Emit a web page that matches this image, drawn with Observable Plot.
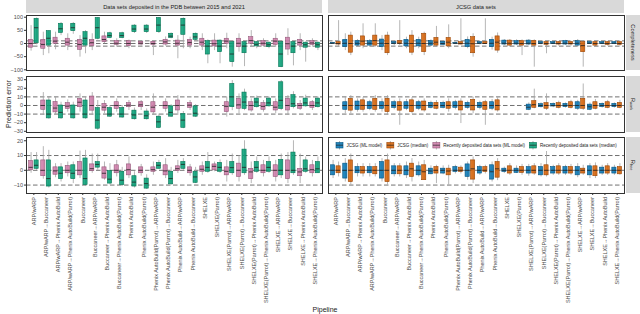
<!DOCTYPE html>
<html><head><meta charset="utf-8">
<script src="https://cdn.jsdelivr.net/npm/d3@7"></script>
<script src="https://cdn.jsdelivr.net/npm/@observablehq/plot@0.6"></script>
<style>
body{margin:0;background:#fff;}
#chart{position:relative;width:640px;height:314px;overflow:hidden;font-family:"Liberation Sans",Arial,sans-serif;background:#fff;}
#chart svg{position:absolute;left:0;}
</style></head><body><div id="chart"></div>
<script>
const pipelines = ["ARP/wARP","ARP/wARP→Buccaneer","ARP/wARP→Phenix AutoBuild","ARP/wARP→Phenix AutoBuild(Parrot)","Buccaneer","Buccaneer→ARP/wARP","Buccaneer→Phenix AutoBuild","Buccaneer→Phenix AutoBuild(Parrot)","Phenix AutoBuild","Phenix AutoBuild(Parrot)","Phenix AutoBuild(Parrot)→ARP/wARP","Phenix AutoBuild(Parrot)→Buccaneer","Phenix AutoBuild→ARP/wARP","Phenix AutoBuild→Buccaneer","SHELXE","SHELXE(Parrot)","SHELXE(Parrot)→ARP/wARP","SHELXE(Parrot)→Buccaneer","SHELXE(Parrot)→Phenix AutoBuild","SHELXE(Parrot)→Phenix AutoBuild(Parrot)","SHELXE→ARP/wARP","SHELXE→Buccaneer","SHELXE→Phenix AutoBuild","SHELXE→Phenix AutoBuild(Parrot)"];
const datasets = ["Data sets deposited in the PDB between 2015 and 2021","JCSG data sets"];
const metrics = ["Completeness","Rwork","Rfree"];
const seriesNames = ["JCSG (ML model)","JCSG (median)","Recently deposited data sets (ML model)","Recently deposited data sets (median)"];
const seriesColors = ["#0072B2","#D55E00","#CC79A7","#009E73"];
const yTicksCompleteness = [-100,-50,0,50,100];
const yTicksRwork = [-30,-20,-10,0,10,20,30];
const yTicksRfree = [-10,0,10,20];
const referenceLines = [-10,0,10];

// box statistics per pipeline: [lower whisker, q1, median, q3, upper whisker]
const pdbCompML = [[-29,-16,0,14,68],[-46,-20,-4,14,43],[-24,-1,9,22,43],[-27,-8,5,18,37],[-52,-24,-4,14,30],[-27,-10,3,14,37],[-1,5,15,27,43],[-14,-5,1,9,18],[-20,-10,0,9,13],[-9,-4,1,6,11],[-46,-5,0,6,11],[-10,-4,6,14,25],[-58,-8,1,11,30],[-20,-8,4,14,24],[-27,-8,5,18,37],[-27,-11,-1,11,37],[-20,-1,9,18,39],[-33,-14,1,18,37],[-14,-1,11,24,49],[-14,-8,1,9,18],[-14,-5,9,18,37],[-46,-23,-1,22,56],[-27,-8,4,14,37],[-14,-5,2,9,18]];
const pdbCompMedian = [[-5,1,60,94,97],[-39,-8,20,47,49],[30,40,56,75,80],[35,47,60,75,80],[-39,-8,20,43,49],[14,18,60,97,99],[18,21,30,39,43],[18,21,30,39,43],[38,43,55,68,72],[38,43,55,68,72],[38,43,70,97,99],[18,21,28,37,40],[-20,33,70,94,97],[10,14,25,37,40],[-77,-42,-10,9,14],[-77,-33,-10,11,14],[-90,-71,-40,5,8],[-88,-37,-10,5,8],[-20,-11,-3,5,8],[-20,-14,-5,3,6],[-92,-90,-40,5,8],[-85,-37,-10,5,8],[-71,-16,-5,3,6],[-27,-16,-5,3,6]];
const pdbRworkML = [null,[-11.5,-5,0,5.8,15],[-11.5,-8,-3,4,9.6],[-7.7,-4,-0.8,2.7,6.5],[-7.7,-2,3.8,7.7,13.5],[-11.5,-6,0,10.4,15],[-9.6,-6,-2,1.9,5.8],[-7.7,-4,0,3.8,7.7],[-5.8,-2,0.4,2.7,5.8],[-5.8,-2,0.8,3.8,5.8],[-11.5,-8,-2,3.8,13.5],[-7.7,-3.8,0,3.8,7.7],[-11.5,-5.8,0,5.8,11.5],[-5.8,-2.7,0.4,2.7,5.8],null,null,[-13.5,-7.7,-1,3.8,9.6],[-9.6,-3.8,0.8,7.7,13.5],[-7.7,-5.8,0,3.8,7.7],[-7.7,-5,-1,2.7,5.8],[-9.6,-5.8,-2,3.8,7.7],[-11.5,-5.8,0,7.7,11.5],[-5.8,-3.8,0,1.9,5.8],[-5.8,-2.7,0,3.8,5.8]];
const pdbRworkMedian = [null,[-16,-15,-10,5.8,9.6],[-16,-15,-8,0,3.8],[-16,-15,-10,0,3.8],[-16,-15,-10,5.8,9.6],[-29,-27,-17,-3,5.8],[-14,-13,-10,-3,0],[-15,-14,-10,-3,0],[-17,-16,-11,-6,-3],[-17,-16,-12,-7,-4],[-27,-26,-19,-13,-10],[-14,-13,-8,-1,1],[-27,-26,-17,-10,-7],[-14,-13,-9,-1,1],null,null,[-6,-2,10,25,29],[-6,-4,4,15,19],[-3,-2,4,8,11],[-2,-1,3,8,10],[-6,-4,6,27,29],[-4,-2,2,12,16],[-2,-1,3,8,12],[-3,-2,3,8,10]];
const pdbRfreeML = [[-2,0,2,6.3,12],[-6,-4,0,6.7,16],[-5,-3,-0.4,2,4.5],[-4.5,-2,0,3,5.6],[-5.6,-3.4,0,5.6,13],[-2,-0.5,1.1,4,11],[-6.7,-5.6,-2,2,5.6],[-4.5,-2,0,3.4,6.7],[-5.6,-3.4,0.4,4,9],[-4,-2,0,2,4],[-3.4,-1,0.4,2,5.6],[-5.6,-3.4,-0.4,3.4,7.9],[-2.2,-0.5,1.1,2.7,6.7],[-4,-2,0,2,4],[-3.4,-1,0.7,2.7,5.6],[-1,0,2.7,4,5.6],[-7.9,-3.4,-0.7,2,6.7],[-7.9,-4.5,0,4.5,10],[-9,-6,-1.1,1,5.6],[-4.5,-2,0,3.4,6.7],[-7.9,-4.5,0,3.4,6.7],[-9,-6,0,6.7,12],[-9,-4,-1.1,1,11],[-4.5,-2,0.4,3.4,6.7]];
const pdbRfreeMedian = [[0,1,3.4,6.7,12],[-12,-11,-5.6,6.7,13.5],[-7.9,-6,-2,2,4.5],[-9,-6,-2,3.4,5.6],[-11,-10,-5.6,8,13.5],[0,1.8,4,5.6,11],[-10,-9,-6,-0.5,4.5],[-11,-10,-6.7,-1,2],[-12,-11,-8,-4,-1],[-13,-12.4,-9,-5.6,-3],[1,1,3.4,5,6.7],[-10,-9.5,-5.6,-1,2],[0,1,4,5.6,7.9],[-9,-8.5,-4.5,-1,2],[-2,-1,2,5.6,12],[-2,-1,2,5,7],[-3.4,-2,1.8,5.6,11],[-3.4,-2,2,14,20],[-2,-1,2,5.6,9],[-2,-1,2,5.6,9],[-5.6,-3.4,0,7,11],[-3.4,-2,0,12,20],[-2,-1,1,6.7,9],[-2,-2,1,5.6,9]];
const jcsgCompML = [[-3,-1,1,2,4],[-27,-14,1,14,37],[-15,-8,1,9,15],[-15,-8,1,9,15],[-27,-14,1,15,30],[-8,-1,1,5,9],[-20,-11,1,14,24],[-20,-11,1,14,24],[-12,-8,1,9,14],[-8,-5,0,6,10],[-3,-1,1,2,4],[-20,-14,1,14,25],[-5,-1,1,5,8],[-25,-14,1,14,24],[-8,-4,1,11,15],[-8,-4,1,9,14],[-8,-4,1,11,15],[-5,-1,1,5,8],[-4,-2,1,5,8],[-8,-4,1,9,12],[-14,-8,1,9,15],[-4,-1,1,5,8],[-4,-2,1,5,8],[-4,-2,1,5,8]];
const jcsgCompMedian = [[-14,-4,0,5,87],[-46,-35,0,30,43],[-20,-8,9,27,75],[-14,-8,11,30,75],[-46,-37,0,30,43],[-8,-2,1,9,87],[-46,-35,0,30,49],[-46,-33,0,37,43],[-14,-8,5,21,65],[-20,-11,5,21,71],[-5,-4,0,5,94],[-52,-37,-1,24,37],[-4,-2,0,5,94],[-37,-27,5,27,40],[-14,-8,1,11,15],[-46,-8,0,9,14],[-90,-8,0,9,14],[-39,-5,0,5,8],[-10,-4,0,5,8],[-10,-4,0,5,8],[-90,-33,-8,5,8],[-14,-8,0,5,8],[-10,-5,0,5,8],[-10,-5,0,5,8]];
const jcsgRworkML = [null,[-9.6,-5,0,3.8,9.6],[-7.7,-5,0,4.6,7.7],[-6,-4,0,3.8,6],[-7.7,-4,0,3.8,7.7],[-5,-2.7,0,3.8,6],[-6,-3.8,0,3.8,7],[-6,-3.8,0,3.8,6],[-4,-2.7,0,3,5],[-4,-2.7,0,3,5],[-5,-2.7,0,3.8,6],[-4.5,-2.7,0,3,5],[-5,-2.7,0,3,5],[-6,-3.8,0,3.8,7],null,null,[-6,-5,-2,1,3],[-3,-2,0,1.5,3],[-2.5,-1.2,0,1.9,3],[-3,-1.9,0,1.9,3],[-5.8,-3.8,0,3.8,6],[-6,-5,-1.5,1,3],[-3,-1.9,0,1.9,3],[-3,-1.9,0,1.9,3]];
const jcsgRworkMedian = [null,[-9.6,-6,0,7.7,11.5],[-7.7,-5,0,6,9],[-7.7,-5,0,7.7,11.5],[-11.5,-7.7,0,7.7,11.5],[-23,-6,0,3.8,7.7],[-9.6,-7.7,0,6,9],[-7.7,-5.8,0,4.6,7.7],[-5,-3.8,0,3,5.8],[-7.7,-3.8,0,3.8,7.7],[-21,-5.8,0,4.6,7.7],[-9.6,-5.8,0,6.5,9.6],[-23,-5,0,3.8,6],[-7.7,-5.8,0,6,9],null,null,[-3.8,-2.7,1,5,19],[-5.8,-3.8,0,2.7,13.5],[-4,-2.7,0,2.7,5],[-4,-2.7,0,3.8,6],[-5.8,-3.8,0,7.7,25],[-5,-3.8,0,3.8,7],[-3.8,-2.7,0,3.8,6],[-3.8,-2.7,0,3,6]];
const jcsgRfreeML = [[-5.6,-3.4,0,3.4,6.7],[-7.9,-5.6,0,4.5,7.9],[-4.5,-2,0,2.2,4.5],[-4.5,-2,0,2.2,4.5],[-7.9,-5.6,0,5.6,7.9],[-4.5,-2.7,0,2.7,4.5],[-5.6,-3.4,0,2.7,5.6],[-4.5,-3.4,0,2.7,5.6],[-3,-2.7,-0.5,1.1,3],[-3,-2.2,0,1.1,3],[-2.5,-1.1,0,2.2,3.4],[-6.7,-4.5,0,4,5.6],[-3.4,-2.2,0,2.2,3.4],[-7.9,-6.3,-1,3.4,5.6],[-2.2,-1.1,0,1.1,2.2],[-2.2,-1.8,0,1.1,3],[-4,-2.2,0,2.2,4],[-4.5,-3.4,0,2.2,4.5],[-3.4,-2.2,0,2.2,3.4],[-3.4,-2.2,0,2.2,3.4],[-5,-3.4,0,2.2,4.5],[-5.6,-3.4,0,2.7,4.5],[-3.4,-2.2,0,1.8,3.4],[-3.4,-2.2,0,1.8,3.4]];
const jcsgRfreeMedian = [[-4.5,-2,0,2.7,5.6],[-10,-8,0,6.7,11],[-4.5,-2.2,0,2.2,4.5],[-4.5,-2.7,0,2.2,4.5],[-10,-8,0,6.7,11],[-4.5,-2.7,0,2.7,4.5],[-7.9,-4.5,1,4.5,7.9],[-6.7,-6.7,-1,3.4,6.7],[-9,-2.2,0,2.2,3.4],[-10,-3.4,-0.5,1.1,3.4],[-2.5,-1.1,0,1.8,3],[-9,-6.3,1,6.7,9],[-2.5,-1.1,0,2.2,3.4],[-7,-5,1,5.6,7.9],[-3.4,-2.2,0,2.7,4.5],[-3.4,-1.8,0,2.2,4],[-3.4,-2.2,0,2.7,4.5],[-4.5,-3.4,0,3.4,17],[-3.4,-2.2,0,2.7,4.5],[-3.4,-2.2,0,2.2,4],[-3.4,-2.2,0,1.1,3.4],[-5.6,-4,0,2.7,5],[-3.4,-2.2,0,2.7,4.5],[-3.4,-2.7,0,2.2,4.5]];

const tables = [
  {metric:"Completeness", dataset:0, series:2, side:-1, stats:pdbCompML},
  {metric:"Completeness", dataset:0, series:3, side:1, stats:pdbCompMedian},
  {metric:"Completeness", dataset:1, series:0, side:-1, stats:jcsgCompML},
  {metric:"Completeness", dataset:1, series:1, side:1, stats:jcsgCompMedian},
  {metric:"Rwork", dataset:0, series:2, side:-1, stats:pdbRworkML},
  {metric:"Rwork", dataset:0, series:3, side:1, stats:pdbRworkMedian},
  {metric:"Rwork", dataset:1, series:0, side:-1, stats:jcsgRworkML},
  {metric:"Rwork", dataset:1, series:1, side:1, stats:jcsgRworkMedian},
  {metric:"Rfree", dataset:0, series:2, side:-1, stats:pdbRfreeML},
  {metric:"Rfree", dataset:0, series:3, side:1, stats:pdbRfreeMedian},
  {metric:"Rfree", dataset:1, series:0, side:-1, stats:jcsgRfreeML},
  {metric:"Rfree", dataset:1, series:1, side:1, stats:jcsgRfreeMedian}
];
const boxes = [];
for (const t of tables) t.stats.forEach((s, i) => {
  if (!s) return;
  const fill = seriesColors[t.series];
  boxes.push({metric:t.metric, dataset:datasets[t.dataset], pos:i+1+0.225*t.side,
    lo:s[0], q1:s[1], med:s[2], q3:s[3], hi:s[4], fill, edge:d3.color(fill).darker(0.9).formatHex()});
});

const yTicks = {Completeness:yTicksCompleteness, Rwork:yTicksRwork, Rfree:yTicksRfree};
const yDomains = {Completeness:[-102.7,106.5], Rwork:[-31.4,33.7], Rfree:[-15.7,22.2]};
const rowLayout = [{top:11, panel:55, mb:4, xaxis:false},{top:72, panel:56, mb:4, xaxis:false},{top:133, panel:56, mb:125, xaxis:true}];
const HW = 0.17;
const chart = document.getElementById("chart");

metrics.forEach((metric, r) => {
  const L = rowLayout[r];
  const data = boxes.filter(d => d.metric === metric);
  const p = Plot.plot({
    width:640, height:4 + L.panel + L.mb,
    marginLeft:26, marginRight:16, marginTop:4, marginBottom:L.mb,
    style:{background:"transparent", fontFamily:"Liberation Sans, Arial, sans-serif", fontSize:"5.5px", color:"#4d4d4d", overflow:"visible"},
    fx:{domain:datasets, paddingInner:6/302, paddingOuter:0, axis:null, label:null},
    x:{type:"linear", domain:[0.4,24.6], axis: L.xaxis ? undefined : null},
    y:{domain:yDomains[metric]},
    color:{type:"identity"},
    marks:[
      Plot.ruleY(referenceLines, {stroke:"#333", strokeWidth:0.7, strokeDasharray:"4.5,2.5"}),
      Plot.ruleX(data, {fx:"dataset", x:"pos", y1:"lo", y2:"hi", stroke:"#a3a3a3", strokeWidth:0.8}),
      Plot.rect(data, {fx:"dataset", x1:d=>d.pos-HW, x2:d=>d.pos+HW, y1:"q1", y2:"q3", fill:"fill", fillOpacity:0.85, stroke:"edge", strokeWidth:0.6}),
      Plot.ruleY(data, {fx:"dataset", y:"med", x1:d=>d.pos-HW, x2:d=>d.pos+HW, stroke:"#222", strokeWidth:0.8}),
      Plot.frame({stroke:"#333", strokeWidth:1}),
      Plot.axisY({ticks:yTicks[metric], tickSize:2, tickPadding:1.5, label:null, stroke:"#333", fill:"#4d4d4d"}),
      L.xaxis ? Plot.axisX({ticks:d3.range(1,25), tickFormat:i=>pipelines[i-1], tickRotate:-90, tickSize:2, tickPadding:1.5, label:null, stroke:"#333", fill:"#4d4d4d"}) : null
    ]
  });
  p.style.top = L.top + "px";
  chart.appendChild(p);
});

// strips, axis titles and legend
const ov = d3.select(chart).append("svg").attr("width",640).attr("height",314)
  .style("top","0px").style("font-family","Liberation Sans, Arial, sans-serif");
const panelsX = [[26,296],[328,296]];
datasets.forEach((name, j) => {
  ov.append("rect").attr("x",panelsX[j][0]).attr("y",0).attr("width",panelsX[j][1]).attr("height",13).attr("fill","#d9d9d9");
  ov.append("text").attr("x",panelsX[j][0]+panelsX[j][1]/2).attr("y",6.8).attr("text-anchor","middle")
    .attr("dominant-baseline","central").attr("font-size",5.7).attr("fill","#1a1a1a").text(name);
});
const rowsY = [[15,55],[76,56],[137,56]];
metrics.forEach((m, r) => {
  const [y0,h] = rowsY[r];
  ov.append("rect").attr("x",626).attr("y",y0).attr("width",14).attr("height",h).attr("fill","#d9d9d9");
  const t = ov.append("text").attr("transform",`translate(632.5,${y0+h/2}) rotate(90)`).attr("text-anchor","middle")
    .attr("dominant-baseline","central").attr("font-size",5.7).attr("fill","#1a1a1a");
  if (m === "Completeness") t.text(m);
  else { t.append("tspan").text("R"); t.append("tspan").attr("font-size",3.8).attr("dy",1.6).text(m.slice(1)); }
});
ov.append("text").attr("transform","translate(8,104) rotate(-90)").attr("text-anchor","middle")
  .attr("dominant-baseline","central").attr("font-size",7).attr("fill","#1a1a1a").text("Prediction error");
ov.append("text").attr("x",325).attr("y",309).attr("text-anchor","middle").attr("dominant-baseline","central")
  .attr("font-size",7).attr("fill","#1a1a1a").text("Pipeline");

// legend inside bottom-right panel
ov.append("rect").attr("x",333).attr("y",139).attr("width",289).attr("height",12).attr("fill","#fff");
let lx = 336;
seriesNames.forEach((name, k) => {
  const c = seriesColors[k];
  ov.append("line").attr("x1",lx+3.5).attr("x2",lx+3.5).attr("y1",141).attr("y2",149.5).attr("stroke","#a3a3a3").attr("stroke-width",0.8);
  ov.append("rect").attr("x",lx).attr("y",142.5).attr("width",7).attr("height",5.5).attr("fill",c).attr("fill-opacity",0.85)
    .attr("stroke",d3.color(c).darker(0.9).formatHex()).attr("stroke-width",0.6);
  ov.append("line").attr("x1",lx).attr("x2",lx+7).attr("y1",145.2).attr("y2",145.2).attr("stroke","#222").attr("stroke-width",0.7);
  const t = ov.append("text").attr("x",lx+10.5).attr("y",145.3).attr("dominant-baseline","central")
    .attr("font-size",4.5).attr("fill","#1a1a1a").text(name);
  lx += 10.5 + t.node().getComputedTextLength() + 4.5;
});
</script></body></html>
